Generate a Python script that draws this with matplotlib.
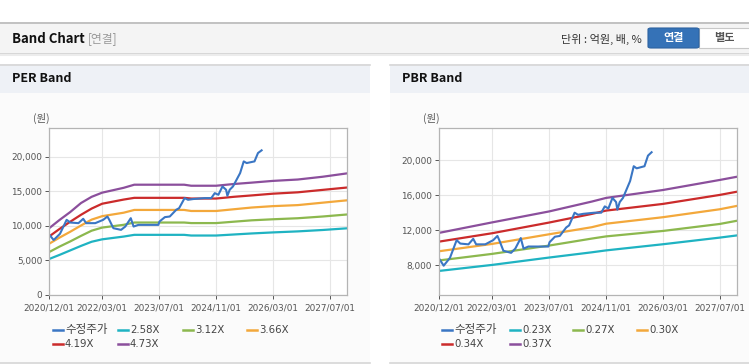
import numpy as np
import pandas as pd
import matplotlib
matplotlib.use("Agg")
import matplotlib.pyplot as plt
from matplotlib.patches import Rectangle, FancyBboxPatch
from matplotlib.lines import Line2D

plt.rcParams['font.family'] = ['DejaVu Sans', 'Noto Sans CJK KR']

# ---------------------------------------------------- data
price_dates = ['2020-12-05', '2021-01-10', '2021-03-05', '2021-05-01', '2021-06-01',
               '2021-08-10', '2021-09-20', '2021-10-15', '2022-01-01', '2022-03-10',
               '2022-04-15', '2022-05-01', '2022-06-05', '2022-08-10', '2022-09-15',
               '2022-11-01', '2022-11-25', '2023-01-05', '2023-03-01', '2023-06-25',
               '2023-07-05', '2023-08-20', '2023-10-01', '2023-11-25', '2023-12-20',
               '2024-02-05', '2024-03-05', '2024-04-20', '2024-07-25', '2024-09-20',
               '2024-10-20', '2024-11-20', '2024-12-25', '2025-01-25', '2025-02-05',
               '2025-02-25', '2025-03-25', '2025-05-25', '2025-06-25', '2025-07-20',
               '2025-09-25', '2025-10-25', '2025-11-25']
price = [8700, 7950, 8850, 10870, 10480,
         10390, 11020, 10390, 10390, 10870,
         11350, 10870, 9660, 9420, 9900,
         11110, 9900, 10140, 10140, 10140,
         10630, 11260, 11350, 12320, 12560,
         14010, 13770, 13880, 14010, 14010,
         14730, 14490, 15700, 15220, 14350,
         15220, 15700, 17630, 19320, 19080,
         19320, 20530, 20920]

per_dates = ['2020-12-01', '2021-03-01', '2021-06-01', '2021-09-01', '2021-12-01',
             '2022-03-01', '2022-06-01', '2022-09-01', '2022-12-01', '2024-02-01',
             '2024-04-01', '2024-11-01', '2025-04-01', '2025-09-01', '2026-03-01',
             '2026-10-01', '2027-05-01', '2027-12-01']
per_labels = ['2.58X', '3.12X', '3.66X', '4.19X', '4.73X']
per_258 = [5200, 5800, 6450, 7100, 7700, 8050, 8250, 8450, 8700, 8700,
           8600, 8600, 8750, 8900, 9050, 9200, 9400, 9650]
per_312 = [6200, 7000, 7750, 8550, 9300, 9750, 9950, 10150, 10480, 10480,
           10400, 10400, 10600, 10800, 10950, 11100, 11350, 11650]
per_366 = [7400, 8300, 9150, 10050, 10900, 11400, 11650, 11900, 12300, 12300,
           12150, 12150, 12400, 12650, 12850, 13000, 13350, 13700]
per_419 = [8450, 9550, 10600, 11600, 12500, 13200, 13500, 13800, 14050, 14050,
           13950, 13950, 14200, 14400, 14650, 14850, 15200, 15550]
per_473 = [9640, 10850, 12000, 13300, 14200, 14800, 15150, 15500, 15950, 15950,
           15800, 15800, 16050, 16250, 16500, 16700, 17100, 17600]

pbr_dates = ['2020-12-01', '2022-03-01', '2023-07-01', '2024-07-01', '2024-11-01',
             '2026-03-01', '2027-07-01', '2027-12-01']
pbr_labels = ['0.23X', '0.27X', '0.30X', '0.34X', '0.37X']
pbr_023 = [7350, 8040, 8880, 9480, 9700, 10400, 11160, 11420]
pbr_027 = [8550, 9300, 10250, 11050, 11300, 11920, 12720, 13100]
pbr_030 = [9600, 10440, 11540, 12350, 12750, 13490, 14400, 14800]
pbr_034 = [10700, 11660, 12880, 13870, 14250, 15010, 16040, 16420]
pbr_037 = [11700, 12900, 14150, 15280, 15700, 16600, 17750, 18130]

tick_dates = ['2020-12-01', '2022-03-01', '2023-07-01', '2024-11-01', '2026-03-01', '2027-07-01']
price_label = '수정주가'

band_colors = ['#1fb3c2', '#8cb84e', '#f3a83b', '#cb2b2b', '#8b4f9c']
price_color = '#3a76c4'

# ---------------------------------------------------- figure
W, H = 749, 364
fig = plt.figure(figsize=(W / 100, H / 100), dpi=100)
fig.patch.set_facecolor('white')


def rect(x, y, w, h, fc, ec='none', lw=0, z=0):
    fig.add_artist(Rectangle((x / W, 1 - (y + h) / H), w / W, h / H, transform=fig.transFigure,
                             facecolor=fc, edgecolor=ec, linewidth=lw, zorder=z))


def hline(x0, x1, y, color, lw=1):
    fig.add_artist(Line2D([x0 / W, x1 / W], [1 - y / H, 1 - y / H], transform=fig.transFigure,
                          color=color, linewidth=lw))


def text(x, y, s, **kw):
    fig.text(x / W, 1 - y / H, s, **kw)


cjk = ['Noto Sans CJK KR', 'DejaVu Sans']

# header bar
rect(0, 22, W, 31, '#f4f4f4')
hline(0, W, 22.5, '#b8b8b8', 1.2)
hline(0, W, 53.5, '#cfcfcf', 1.2)
hline(0, W, 55, '#ececec', 1.5)
text(12, 39, 'Band Chart', family=cjk, fontsize=9.5, fontweight='bold', color='#111111', va='center')
text(88, 39, '[연결]', family=cjk, fontsize=8.5, color='#999999', va='center')
text(642, 39, '단위 : 억원, 배, %', family=cjk, fontsize=8, color='#333333', va='center', ha='right')
fig.add_artist(FancyBboxPatch((648 / W, 1 - 48 / H), 51 / W, 20 / H, boxstyle='round,pad=0,rounding_size=0.004',
                              transform=fig.transFigure, facecolor='#3572b7', edgecolor='#2d62a0', linewidth=0.8))
rect(699, 28, 52, 20, 'white', '#c8c8c8', 0.8)
text(673.5, 38, '연결', family=cjk, fontsize=8, fontweight='bold', color='white', ha='center', va='center')
text(724, 38, '별도', family=cjk, fontsize=8, fontweight='bold', color='#555555', ha='center', va='center')

# panels
for px, pw, title in [(0, 370, 'PER Band'), (390, 359, 'PBR Band')]:
    rect(px, 93, pw, 269, '#fbfbfb')
    rect(px, 64, pw, 29, '#eef1f6')
    hline(px, px + pw, 64.5, '#d6d6d6', 1.2)
    hline(px, px + pw, 362.5, '#d6d6d6', 1.2)
    text(px + 12, 79, title, family=cjk, fontsize=9, fontweight='bold', color='#111111', va='center')


def draw_chart(left, ylim, yticks, band_dates, bands, labels, unit_x, leg_x):
    ax = fig.add_axes([left / W, (H - 295) / H, 298 / W, 167 / H])
    ax.set_facecolor('white')
    bd = pd.to_datetime(band_dates)
    for vals, c in zip(bands, band_colors):
        ax.plot(bd, vals, color=c, linewidth=1.6, solid_capstyle='butt')
    ax.plot(pd.to_datetime(price_dates), price, color=price_color, linewidth=1.5)
    ax.set_xlim(pd.Timestamp('2020-12-01'), pd.Timestamp('2027-11-26'))
    ax.set_ylim(*ylim)
    ax.set_xticks(pd.to_datetime(tick_dates))
    ax.set_xticklabels([d.replace('-', '/') for d in tick_dates])
    ax.set_yticks(yticks)
    ax.set_yticklabels([f'{v:,}' for v in yticks])
    ax.grid(True, color='#e6e6e6', linewidth=0.8)
    ax.set_axisbelow(True)
    for s in ax.spines.values():
        s.set_color('#b4b4b4')
        s.set_linewidth(0.9)
    ax.tick_params(labelsize=6.4, colors='#555555', length=3, width=0.7, pad=2)
    ax.tick_params(axis='x', pad=3)
    text(unit_x, 118, '(원)', family=cjk, fontsize=7.5, color='#555555', va='center')
    # legend
    names = [price_label] + labels
    colors = [price_color] + band_colors
    for i, (n, c) in enumerate(zip(names, colors)):
        row, col = divmod(i, 4)
        x = leg_x[col]
        y = 330 + row * 14
        fig.add_artist(Line2D([x / W, (x + 10) / W], [1 - y / H, 1 - y / H], transform=fig.transFigure,
                              color=c, linewidth=1.8))
        if i == 0:
            text(x + 12, y, n, family=cjk, fontsize=8.3, color='#444444', va='center')
        else:
            text(x + 12, y, n, family=['DejaVu Sans'], fontsize=7.3, color='#444444', va='center')
    return ax


draw_chart(49, (0, 24150), [0, 5000, 10000, 15000, 20000],
           per_dates, [per_258, per_312, per_366, per_419, per_473], per_labels,
           33, [53, 118, 183, 247])
draw_chart(439, (4600, 23690), [8000, 12000, 16000, 20000],
           pbr_dates, [pbr_023, pbr_027, pbr_030, pbr_034, pbr_037], pbr_labels,
           423, [442, 510, 573, 637])

fig.savefig('out.png', dpi=100)
